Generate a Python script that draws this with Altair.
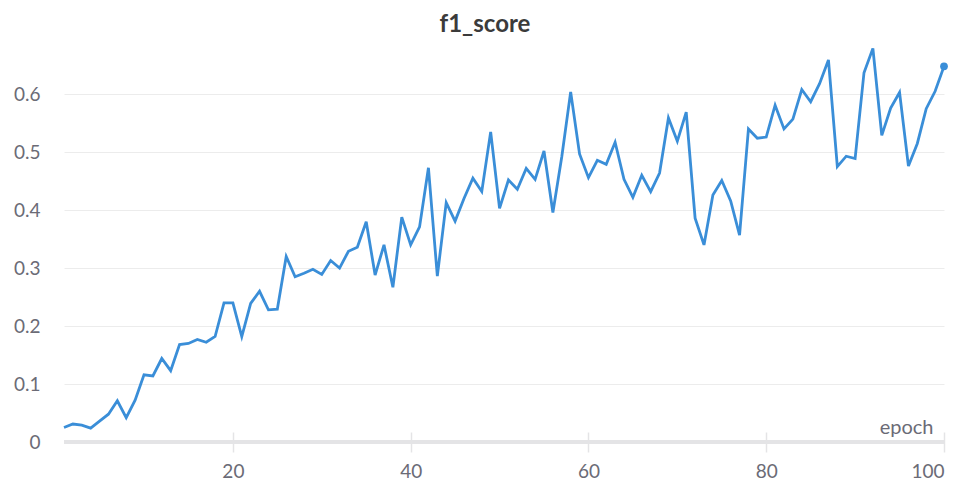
import altair as alt
import pandas as pd

epochs = list(range(1, 101))
f1_score = [
    0.025, 0.031, 0.029, 0.024, 0.036, 0.048, 0.071, 0.042, 0.072, 0.116,
    0.114, 0.144, 0.123, 0.168, 0.170, 0.177, 0.172, 0.182, 0.240, 0.240,
    0.182, 0.239, 0.260, 0.228, 0.229, 0.320, 0.285, 0.291, 0.298, 0.289,
    0.313, 0.300, 0.329, 0.336, 0.380, 0.288, 0.340, 0.267, 0.388, 0.340,
    0.371, 0.473, 0.286, 0.413, 0.381, 0.420, 0.455, 0.432, 0.535, 0.403,
    0.452, 0.436, 0.472, 0.453, 0.502, 0.396, 0.492, 0.604, 0.497, 0.456,
    0.486, 0.479, 0.517, 0.453, 0.422, 0.460, 0.432, 0.464, 0.559, 0.519,
    0.569, 0.386, 0.340, 0.426, 0.451, 0.416, 0.357, 0.540, 0.524, 0.526,
    0.581, 0.540, 0.557, 0.608, 0.587, 0.618, 0.659, 0.475, 0.493, 0.489,
    0.637, 0.679, 0.529, 0.576, 0.603, 0.476, 0.515, 0.575, 0.605, 0.648,
]
x_ticks = [20, 40, 60, 80, 100]
y_ticks = [0, 0.1, 0.2, 0.3, 0.4, 0.5, 0.6]

df = pd.DataFrame({"epoch": epochs, "f1_score": f1_score})
last = df.tail(1)

FONT = "Lato"
LABEL = "#6b6b76"
LINE = "#3a8ed8"

xscale = alt.Scale(domain=[1, 100], nice=False, zero=False)
yscale = alt.Scale(domain=[0, 0.69], nice=False)

baseline = alt.Chart(df).mark_rule(color="#e4e4e6", strokeWidth=3).encode(
    y=alt.datum(0, scale=yscale)
)

line = alt.Chart(df).mark_line(color=LINE, strokeWidth=2.8).encode(
    x=alt.X("epoch:Q", scale=xscale,
            axis=alt.Axis(values=x_ticks, format="d", grid=False, domain=False,
                          offset=-10, tickSize=20, tickColor="#e4e4e6", tickWidth=1.5,
                          labelPadding=10, labelFontSize=19, labelColor=LABEL,
                          labelFont=FONT, title="epoch", titleFont=FONT,
                          titleFontSize=20, titleFontWeight="normal", titleColor=LABEL,
                          titleAlign="right", titleAnchor="end", titleBaseline="alphabetic",
                          titleX=869, titleY=1)),
    y=alt.Y("f1_score:Q", scale=yscale,
            axis=alt.Axis(values=y_ticks, format=".1~f", domain=False, ticks=False,
                          grid=True, gridColor="#ececec", gridWidth=1,
                          labelPadding=24, labelFontSize=19, labelColor=LABEL,
                          labelFont=FONT, title=None)),
)

point = alt.Chart(last).mark_point(filled=True, color=LINE, size=60, opacity=1).encode(
    x=alt.X("epoch:Q", scale=xscale),
    y=alt.Y("f1_score:Q", scale=yscale),
)

chart = alt.layer(baseline, line, point).properties(
    width=880,
    height=400,
    autosize=alt.AutoSizeParams(type="none"),
    padding={"left": 56, "top": 34, "right": 13, "bottom": 38},
    title=alt.TitleParams("f1_score", font=FONT, fontSize=24, fontWeight="bold",
                          color="#3b3b3b", anchor="middle", baseline="alphabetic",
                          offset=0, dy=14, dx=-19),
).configure_view(stroke=None)

chart.save("out.html", embed_options={"renderer": "svg", "actions": False})
